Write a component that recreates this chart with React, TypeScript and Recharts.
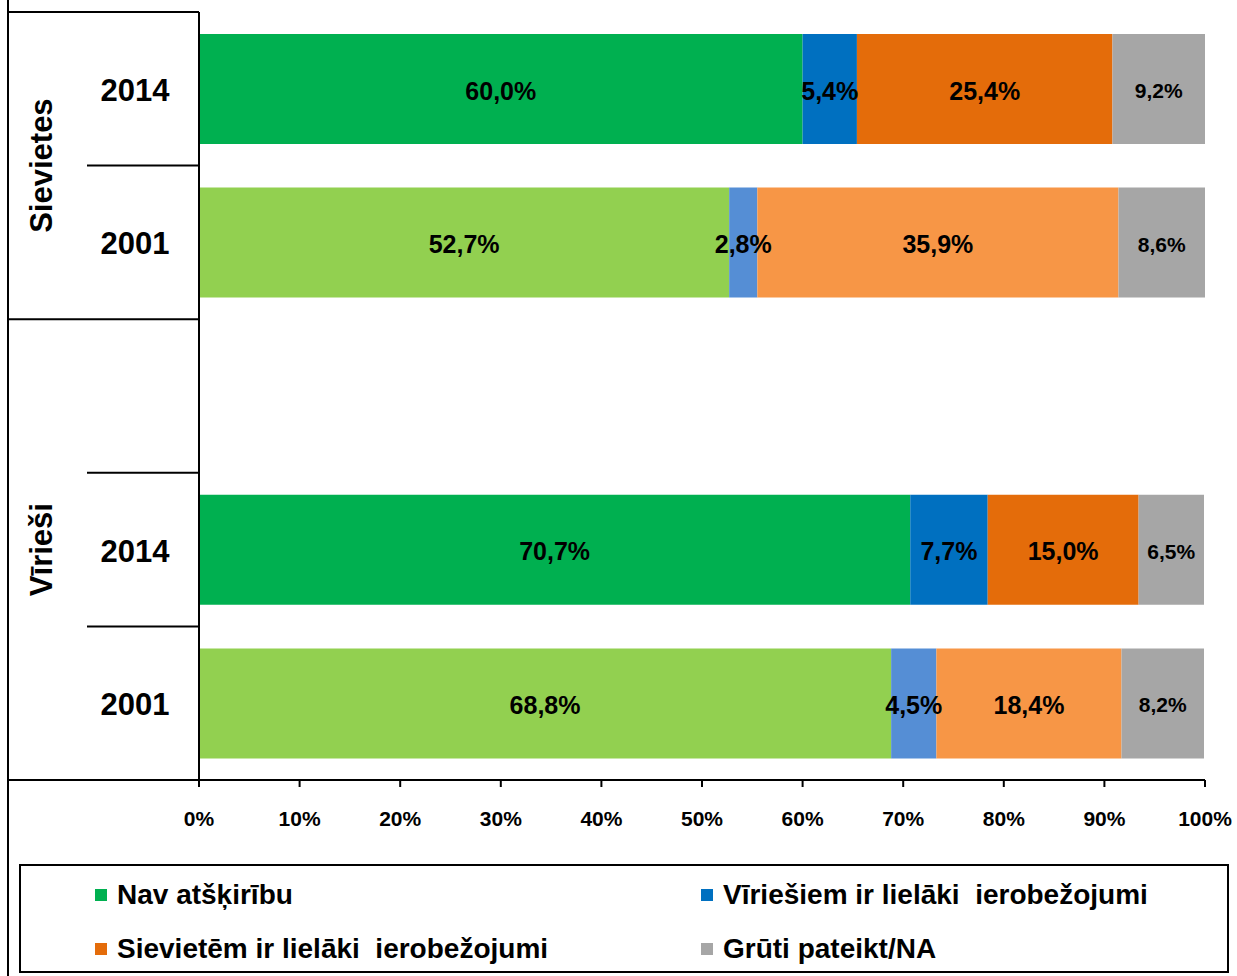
import React from 'react';
import { BarChart, Bar, XAxis, YAxis, Cell, LabelList } from 'recharts';

const CATEGORY_KEYS = ['S2014', 'S2001', 'blank', 'V2014', 'V2001'];
const GROUPS = ['Sievietes', 'Sievietes', 'Vīrieši', 'Vīrieši', 'Vīrieši'];
const YEARS = ['2014', '2001', '', '2014', '2001'];

const NAV = [60.0, 52.7, null, 70.7, 68.8];
const VIR = [5.4, 2.8, null, 7.7, 4.5];
const SIE = [25.4, 35.9, null, 15.0, 18.4];
const GRU = [9.2, 8.6, null, 6.5, 8.2];

const SERIES_KEYS = ['nav', 'vir', 'sie', 'gru'];
const SERIES_NAMES = [
  'Nav atšķirību',
  'Vīriešiem ir lielāki  ierobežojumi',
  'Sievietēm ir lielāki  ierobežojumi',
  'Grūti pateikt/NA',
];
const DARK = ['#00B050', '#0070C0', '#E46C0A', '#A6A6A6'];
const LIGHT = ['#92D050', '#558ED5', '#F79646', '#A6A6A6'];
const X_TICKS = [0, 10, 20, 30, 40, 50, 60, 70, 80, 90, 100];

const data = CATEGORY_KEYS.map((k, i) => ({
  key: k,
  group: GROUPS[i],
  year: YEARS[i],
  nav: NAV[i],
  vir: VIR[i],
  sie: SIE[i],
  gru: GRU[i],
}));

const FONT = '"Liberation Sans", Arial, Helvetica, sans-serif';
const W = 1237;
const H = 976;
const MARGIN = { top: 12, right: 32, bottom: 136, left: 8 };
const XAXIS_H = 60;
const YAXIS_W = 191;
const PLOT_LEFT = MARGIN.left + YAXIS_W;
const BAND = (H - MARGIN.top - MARGIN.bottom - XAXIS_H) / CATEGORY_KEYS.length;
const FRAME_LEFT = 8;
const INNER_LEFT = 87;

function YTick(props: any) {
  const { y, payload } = props;
  const i = CATEGORY_KEYS.indexOf(payload.value);
  if (i < 0) return null;
  const top = y - BAND / 2;
  const newGroup = i === 0 || GROUPS[i] !== GROUPS[i - 1];
  const els: any[] = [];
  els.push(
    <line key="top" x1={newGroup ? FRAME_LEFT : INNER_LEFT} x2={PLOT_LEFT} y1={top} y2={top} stroke="#000" strokeWidth={2} />
  );
  if (i === CATEGORY_KEYS.length - 1) {
    els.push(
      <line key="bot" x1={FRAME_LEFT} x2={PLOT_LEFT} y1={top + BAND} y2={top + BAND} stroke="#000" strokeWidth={2} />
    );
  }
  if (YEARS[i]) {
    els.push(
      <text key="yr" x={135} y={y + 12} textAnchor="middle" fontFamily={FONT} fontWeight="bold" fontSize={31} fill="#000">
        {YEARS[i]}
      </text>
    );
  }
  if (newGroup) {
    let last = i;
    while (last + 1 < GROUPS.length && GROUPS[last + 1] === GROUPS[i]) last++;
    const cy = y + ((last - i) / 2) * BAND;
    els.push(
      <text
        key="grp"
        x={41}
        y={cy}
        dy={11}
        transform={`rotate(-90, 41, ${cy})`}
        textAnchor="middle"
        fontFamily={FONT}
        fontWeight="bold"
        fontSize={31}
        fill="#000"
      >
        {GROUPS[i]}
      </text>
    );
  }
  return <g>{els}</g>;
}

function XTick(props: any) {
  const { x, payload } = props;
  return (
    <text x={x} y={826} textAnchor="middle" fontFamily={FONT} fontWeight="bold" fontSize={21} fill="#000">
      {payload.value}%
    </text>
  );
}

const fmt = (v: any) => (v == null ? '' : Number(v).toFixed(1).replace('.', ',') + '%');

function makeLabel(fontSize: number) {
  return (props: any) => {
    const { x, y, width, height, value } = props;
    if (value == null || width == null) return null;
    const cx = x + width / 2;
    const cy = y + height / 2;
    return (
      <text x={cx} y={cy + fontSize * 0.38 + 1} textAnchor="middle" fontFamily={FONT} fontWeight="bold" fontSize={fontSize} fill="#000">
        {fmt(value)}
      </text>
    );
  };
}

export default function App() {
  return (
    <div style={{ position: 'absolute', left: 0, top: 0, width: W, height: H, background: '#fff', fontFamily: FONT }}>
      <div style={{ position: 'absolute', left: 7, top: 0, width: 2, height: H, background: '#000' }} />
      <BarChart
        width={W}
        height={H}
        data={data}
        layout="vertical"
        margin={MARGIN}
        barSize={110}
      >
        <XAxis
          type="number"
          domain={[0, 100]}
          ticks={X_TICKS}
          allowDataOverflow
          height={XAXIS_H}
          axisLine={{ stroke: '#000', strokeWidth: 2 }}
          tickLine={{ stroke: '#000', strokeWidth: 2 }}
          tickSize={7}
          tick={<XTick />}
          interval={0}
        />
        <XAxis
          xAxisId="top"
          orientation="top"
          type="number"
          domain={[0, 100]}
          height={0}
          tick={false}
          tickLine={false}
          axisLine={{ stroke: '#888', strokeWidth: 2 }}
        />
        <YAxis
          type="category"
          dataKey="key"
          width={YAXIS_W}
          axisLine={{ stroke: '#000', strokeWidth: 2 }}
          tickLine={false}
          tick={<YTick />}
          interval={0}
        />
        <YAxis
          yAxisId="right"
          orientation="right"
          type="category"
          dataKey="key"
          width={0}
          tick={false}
          tickLine={false}
          axisLine={{ stroke: '#888', strokeWidth: 2 }}
        />
        {SERIES_KEYS.map((k, si) => (
          <Bar key={k} dataKey={k} name={SERIES_NAMES[si]} stackId="a" fill={DARK[si]} isAnimationActive={false}>
            {data.map((d, ri) => (
              <Cell key={ri} fill={d.year === '2001' ? LIGHT[si] : DARK[si]} />
            ))}
            <LabelList dataKey={k} content={makeLabel(k === 'gru' ? 21 : 25)} />
          </Bar>
        ))}
      </BarChart>
      <div
        style={{
          position: 'absolute',
          left: 19,
          top: 864,
          width: 1206,
          height: 105,
          border: '2px solid #000',
          boxSizing: 'content-box',
        }}
      >
        {[0, 1, 2, 3].map((si, pos) => {
          const col = pos % 2;
          const row = Math.floor(pos / 2);
          return (
            <div
              key={si}
              style={{
                position: 'absolute',
                left: col === 0 ? 74 : 680,
                top: row === 0 ? 11 : 65,
                height: 36,
                display: 'flex',
                alignItems: 'center',
                whiteSpace: 'pre',
              }}
            >
              <div style={{ width: 12, height: 12, background: DARK[si], marginRight: 10 }} />
              <span style={{ fontFamily: FONT, fontWeight: 'bold', fontSize: 28, color: '#000' }}>{SERIES_NAMES[si]}</span>
            </div>
          );
        })}
      </div>
    </div>
  );
}
